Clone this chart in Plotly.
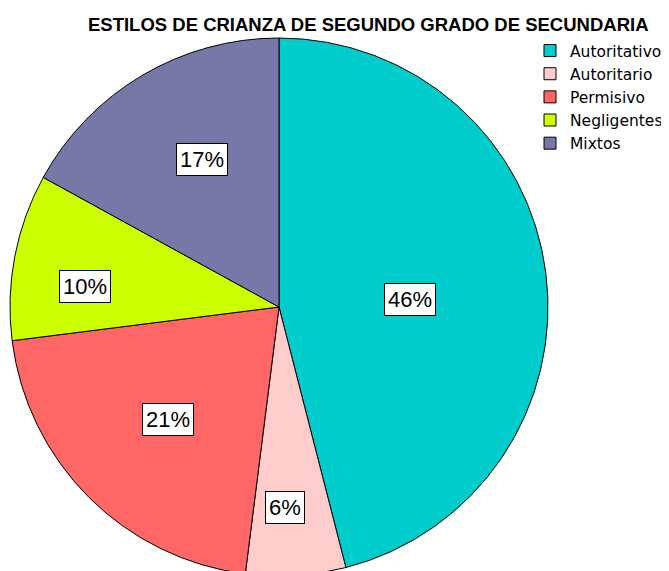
import math
import plotly.graph_objects as go

categories = ["Autoritativo", "Autoritario", "Permisivo", "Negligentes", "Mixtos"]
values = [46, 6, 21, 10, 17]
colors = ["#00CCCC", "#FFCCCC", "#FF6666", "#CCFF00", "#7878A8"]
# placement of the boxed labels inside each slice (fraction of slice angle, fraction of radius)
label_angle = [0.525, 0.59, 0.496, 0.37, 0.547]
label_radius = [0.488, 0.747, 0.586, 0.725, 0.619]
title_text = "ESTILOS DE CRIANZA DE SEGUNDO GRADO DE SECUNDARIA"

W, H = 669, 571
cx, cy, R = 271, 299, 269  # pie centre / radius in pixels (figure coords)

fig = go.Figure(go.Pie(
    labels=categories,
    values=values,
    sort=False,
    direction="clockwise",
    rotation=0,
    marker=dict(colors=colors, line=dict(color="black", width=1)),
    textinfo="none",
    hoverinfo="label+percent",
    domain=dict(x=[(cx - R) / W, (cx + R) / W], y=[(H - cy - R) / H, (H - cy + R) / H]),
))

total = sum(values)
cum = 0
annotations = []
for v, af, rf in zip(values, label_angle, label_radius):
    ang = (cum + v * af) / total * 2 * math.pi
    cum += v
    px = cx + math.sin(ang) * R * rf
    py = cy - math.cos(ang) * R * rf
    annotations.append(dict(
        x=px / W, y=1 - py / H, xref="paper", yref="paper",
        xanchor="center", yanchor="middle",
        text=f"{round(v / total * 100)}%", showarrow=False,
        font=dict(family="Liberation Sans, Arial", size=22, color="black"),
        bgcolor="white", bordercolor="black", borderwidth=1, borderpad=3,
    ))

annotations.append(dict(
    x=360 / W, y=1 - 16 / H, xref="paper", yref="paper",
    xanchor="center", yanchor="middle",
    text=f"<b>{title_text}</b>", showarrow=False,
    font=dict(family="Liberation Sans, Arial", size=18.5, color="black"),
))

fig.update_layout(
    width=W, height=H,
    margin=dict(l=0, r=0, t=0, b=0, autoexpand=False),
    paper_bgcolor="white",
    annotations=annotations,
    showlegend=True,
    legend=dict(
        x=522 / W, y=1 - 26 / H, xanchor="left", yanchor="top",
        font=dict(family="DejaVu Sans", size=15.5, color="black"),
        bgcolor="rgba(0,0,0,0)",
        traceorder="normal",
    ),
)

fig.write_html("out.html")
